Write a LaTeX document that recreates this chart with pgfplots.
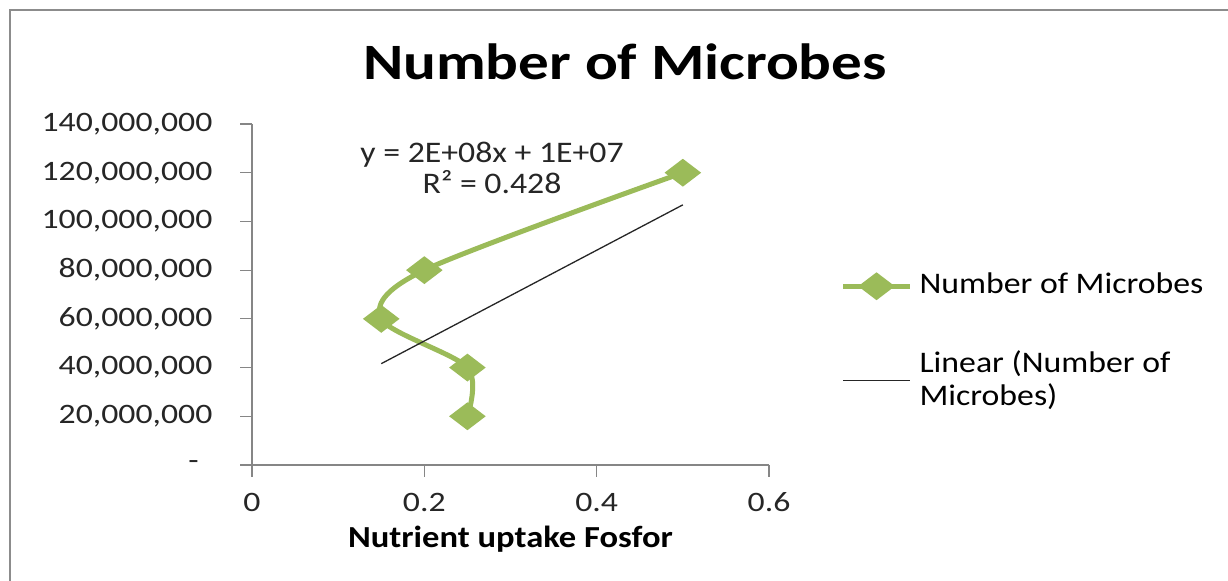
\documentclass[border=0pt]{standalone}
\usepackage{pgfplots}
\pgfplotsset{compat=1.18}
\usepackage{fontspec}
\setmainfont{Carlito}[FakeStretch=1.13]
\newfontfamily\titlefont{Carlito}[FakeStretch=1.2]
\newfontfamily\tickfont{Carlito}[FakeStretch=1.2]
\definecolor{exgreen}{HTML}{9BBB59}
\definecolor{axgray}{HTML}{868686}
\begin{document}
\begin{tikzpicture}
\path[use as bounding box] (0mm,0mm) rectangle (122.8mm,58.1mm);
\draw[line width=0.25mm, color=gray!90] (1.0mm,-0.5mm) -- (1.0mm,57.1mm) -- (123.5mm,57.1mm);
\begin{axis}[
  at={(25.2mm,11.6mm)}, anchor=south west,
  scale only axis, width=51.7mm, height=34.1mm,
  xmin=0, xmax=0.6, ymin=0, ymax=140e6,
  axis lines*=left,
  axis line style={axgray, line width=0.12mm},
  tick style={axgray, line width=0.12mm},
  tick align=outside, major tick length=1.2mm,
  scaled x ticks=false, scaled y ticks=false,
  xtick={0,0.2,0.4,0.6}, xticklabels={0,0.2,0.4,0.6},
  ytick={0,20e6,40e6,60e6,80e6,100e6,120e6,140e6},
  yticklabels={{\makebox[2.4mm][l]{-}},{20,000,000},{40,000,000},{60,000,000},{80,000,000},{100,000,000},{120,000,000},{140,000,000}},
  tick label style={font=\tickfont\fontsize{8}{9.6}\selectfont, text=black!85},
  yticklabel style={anchor=east, inner sep=0pt, xshift=-2.7mm},
  xticklabel style={anchor=base, inner sep=0pt, yshift=-3.45mm},
  xlabel={Nutrient uptake Fosfor},
  xlabel style={at={(axis description cs:0.5,-0.2405)}, anchor=base, inner sep=0pt, font=\fontsize{8.7}{10}\bfseries\selectfont},
  legend style={at={(axis description cs:1.137,0.585)}, anchor=north west, draw=none, fill=none, inner sep=0pt,
    font=\fontsize{8.5}{9.4}\selectfont, row sep=3.7mm, cells={anchor=west, align=left, inner xsep=0.4mm}},
  legend image code/.code={\draw[#1, mark repeat=2, mark phase=2] plot coordinates {(0mm,0mm) (3.35mm,0mm) (6.7mm,0mm)};},
  clip=false,
]
\addplot[exgreen, line width=0.5mm, smooth, tension=0.5, mark=diamond*, mark size=1.08mm, mark options={xscale=1.75, solid}]
  coordinates {(0.25,20e6) (0.25,40e6) (0.15,60e6) (0.2,80e6) (0.5,120e6)};
\addlegendentry{Number of Microbes}
\addplot[black!85, line width=0.13mm] coordinates {(0.15,41.6e6) (0.5,106.8e6)};
\addlegendentry{Linear (Number of\\Microbes)}
\node[font=\fontsize{8.5}{8.8}\selectfont, align=center, text=black!85] at (axis cs:0.2786,122.1e6) {y = 2E+08x + 1E+07\\R² = 0.428};
\end{axis}
\node[font=\titlefont\fontsize{14.5}{17}\bfseries\selectfont] at (62.5mm,51.9mm) {Number of Microbes};
\end{tikzpicture}
\end{document}
